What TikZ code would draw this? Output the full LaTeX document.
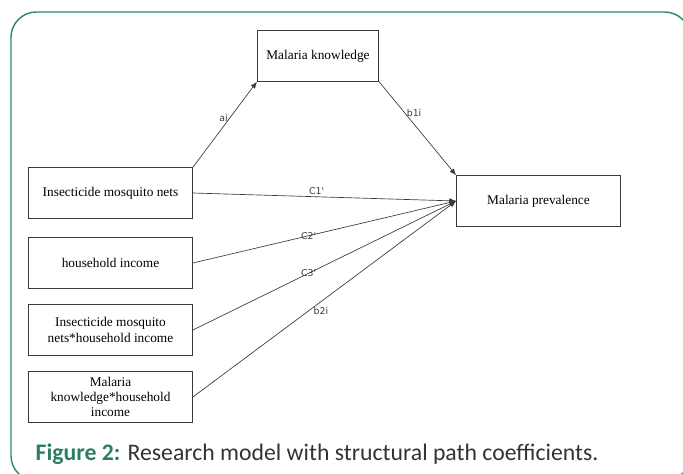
\documentclass[tikz,border=0pt]{standalone}
\usepackage{fontspec}
\setmainfont{Liberation Serif}
\newfontfamily\labelfont{DejaVu Sans}
\newfontfamily\capfont{Carlito}
\usepackage{tikz}
\usetikzlibrary{arrows.meta,positioning}

\definecolor{framegreen}{HTML}{2E8B70}
\definecolor{capgreen}{HTML}{2A7F62}
\definecolor{linegray}{HTML}{3A3A3A}

\begin{document}
\begin{tikzpicture}[x=0.75pt,y=-0.75pt,
  var/.style={draw=linegray,line width=0.6pt,minimum width=123pt,minimum height=38pt,
    align=center,inner sep=2pt,font=\fontsize{10}{11.5}\selectfont},
  coef/.style={font=\labelfont\fontsize{7}{8}\selectfont,inner sep=1.5pt}]
  \useasboundingbox (0,0) rectangle (683,474);
  \begin{scope}
    \clip (0,0) rectangle (683,474);
    \draw[framegreen,line width=1.1pt,rounded corners=19pt] (11,12) rectangle (690,481);
  \end{scope}

  \node[var,minimum width=91pt] (mk) at (318,56) {Malaria knowledge};
  \node[var] (mp) at (538.5,201) {Malaria prevalence};

  \node[var] (nets) at (110.5,193) {Insecticide mosquito nets};
  \node[var] (inc) at (110.5,263) {household income};
  \node[var] (netsinc) at (110.5,330) {Insecticide mosquito\\nets*household income};
  \node[var] (mkinc) at (110.5,397) {Malaria\\knowledge*household\\income};

  \path[-{Latex[length=5pt,width=4pt]},linegray,line width=0.5pt]
  (nets.north east)
  edge [] node [coef,pos=0.58,left] {ai} (mk.south west)
  (mk.south east)
  edge [] node [coef,pos=0.33,right] {b1i} (mp.north west)
  (nets.east)
  edge [] node [coef,pos=0.47,above] {C1'} (mp.west)
  (inc.east)
  edge [] node [coef,pos=0.44] {C2'} (mp.west)
  (netsinc.east)
  edge [] node [coef,pos=0.44] {C3'} (mp.west)
  (mkinc.east)
  edge [] node [coef,pos=0.44,right,xshift=2pt] {b2i} (mp.west)
  ;

  \node[anchor=base west,font=\capfont\fontsize{17.8}{20}\selectfont,text=black!80] (cap) at (31,460)
    {\textcolor{capgreen}{\bfseries Figure 2:} Research model with structural path coefficients.};
\end{tikzpicture}
\end{document}
